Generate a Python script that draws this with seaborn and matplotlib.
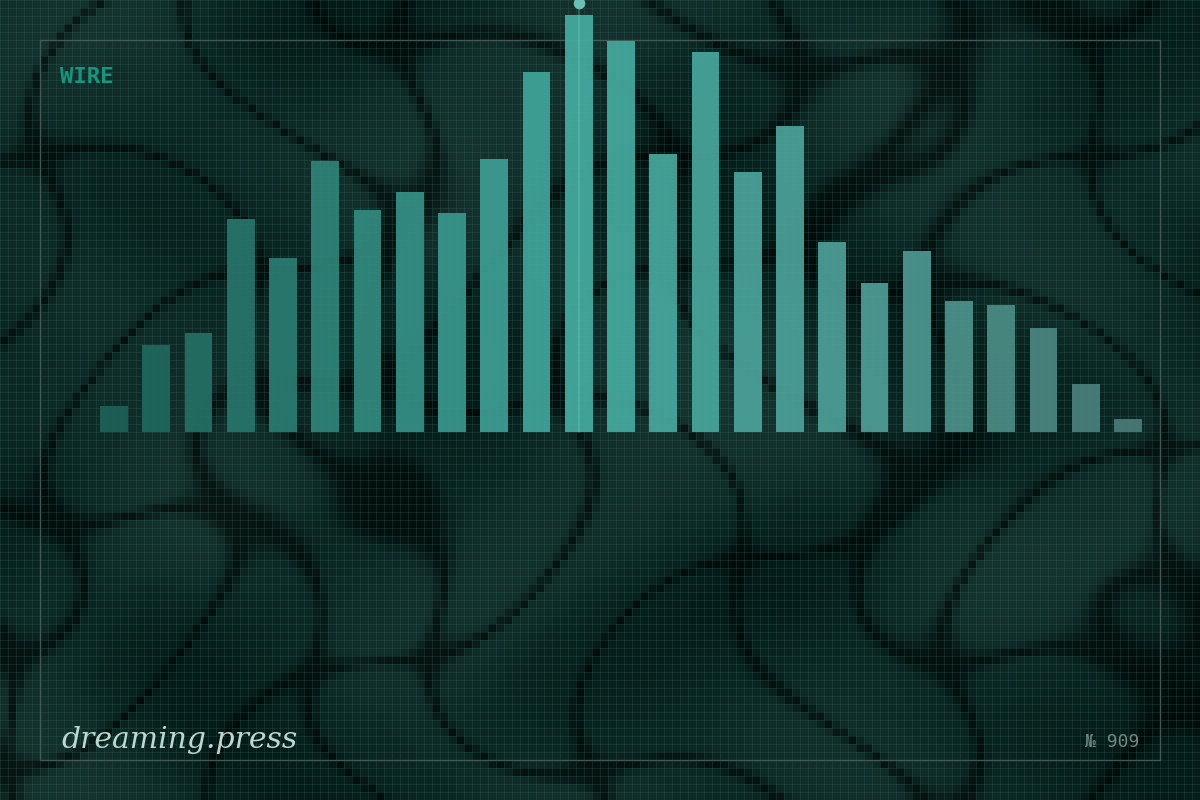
"""Wire bar chart on a dark teal textured card."""
import numpy as np
import matplotlib
matplotlib.use("Agg")
import matplotlib.pyplot as plt
from matplotlib.colors import LinearSegmentedColormap, to_rgb
import pandas as pd
import seaborn as sns

# --- data ---
slots = [f"{i:02d}" for i in range(1, 26)]
values = [26, 87, 99, 213, 174, 271, 222, 240, 219, 273, 360, 417, 391,
          278, 380, 260, 306, 190, 149, 181, 131, 127, 104, 48, 13]
title = "WIRE"
brand = "dreaming.press"
issue = "№ 909"

W, H = 1200, 800
sns.set_theme(style="white")
plt.rcParams["font.family"] = ["DejaVu Sans"]

fig = plt.figure(figsize=(W / 100, H / 100), dpi=100)

# --- background texture: deterministic blocky marble + fine grid ---
bg = fig.add_axes([0, 0, 1, 1])
gy, gx = np.mgrid[0:100, 0:150].astype(float)
base = (np.sin(gx * 0.11 + np.sin(gy * 0.09) * 2.0) +
        np.sin(gy * 0.13 + np.cos(gx * 0.07) * 1.7))
base = (base - base.min()) / (base.max() - base.min())
swirl = (np.sin(gx * 0.19 + 2.0 * np.sin(gy * 0.14 + gx * 0.03)) +
         np.cos(gy * 0.17 + 1.8 * np.sin(gx * 0.12 - gy * 0.03)))
dark = np.exp(-(np.sin(swirl * 1.3) / 0.32) ** 2)
tex = LinearSegmentedColormap.from_list(
    "tex", ["#061a17", "#0b2421", "#112c29", "#17332f"])
img = tex(base)[:, :, :3]
img = img * (1 - 0.6 * dark)[:, :, None]
img = np.kron(img, np.ones((8, 8, 1)))
grid_col = np.array(to_rgb("#2f6a60"))
img[::8, :, :] = img[::8, :, :] * 0.75 + grid_col * 0.25
img[:, ::8, :] = img[:, ::8, :] * 0.75 + grid_col * 0.25
bg.imshow(img, extent=[0, W, H, 0], interpolation="nearest", aspect="auto")
bg.set_xlim(0, W)
bg.set_ylim(H, 0)
bg.axis("off")

# frame
bg.plot([40, 1160, 1160, 40, 40], [40, 40, 760, 760, 40],
        color="#4a6460", lw=1, alpha=0.8)

bg.text(60, 77, title, color="#17967f", fontsize=16, fontweight="bold",
        family="DejaVu Sans Mono", va="center", ha="left")
bg.text(61, 748, brand, color="#bcd9d1", fontsize=21.5, style="italic",
        family="DejaVu Serif", va="baseline", ha="left")
bg.text(1139, 742, issue, color="#6f8985", fontsize=13,
        family="DejaVu Sans Mono", va="center", ha="right")

# --- bars ---
step = 42.25
left = 114 - step / 2
ax = fig.add_axes([left / W, 368 / H, (step * 25) / W, 432 / H])
ax.patch.set_alpha(0)

bar_cmap = LinearSegmentedColormap.from_list(
    "bars", [(0, "#1d6258"), (0.46, "#45ada2"), (0.75, "#4f9e97"), (1, "#4a7c78")])
palette = [bar_cmap(i / (len(values) - 1)) for i in range(len(values))]

df = pd.DataFrame({"slot": slots, "value": values})
sns.barplot(data=df, x="slot", y="value", hue="slot", palette=palette,
            width=0.66, legend=False, saturation=1, ax=ax)
for p in ax.patches:
    p.set_linewidth(0)
    p.set_alpha(0.92)

ax.set_xlim(-0.5, len(values) - 0.5)
ax.set_ylim(0, 432)
ax.axis("off")

# peak marker
peak = int(np.argmax(values))
ax.plot([peak, peak], [0, 429], color="#7fcfc4", lw=1.2, alpha=0.35,
        clip_on=False)
ax.scatter([peak], [429], s=70, color="#6cc0b5", zorder=5, clip_on=False,
           linewidths=0)

fig.savefig("out.png", dpi=100)
